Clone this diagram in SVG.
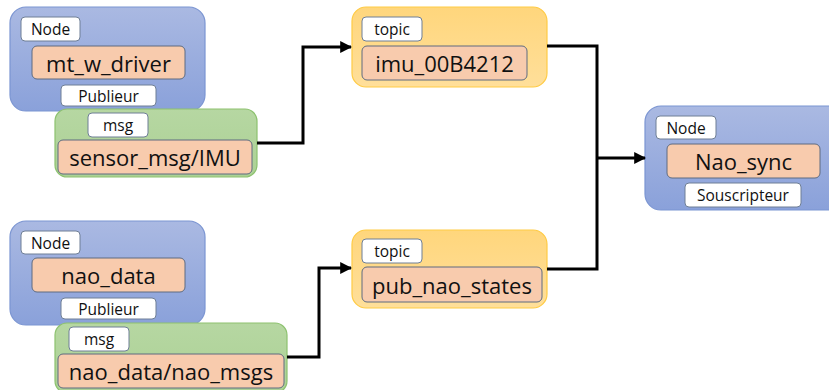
<svg xmlns="http://www.w3.org/2000/svg" width="829" height="390" viewBox="0 0 829 390">
<defs>
<linearGradient id="gBlue" x1="0" y1="0" x2="0" y2="1"><stop offset="0" stop-color="#aab9e2"/><stop offset="1" stop-color="#8aa1da"/></linearGradient>
<linearGradient id="gGreen" x1="0" y1="0" x2="0" y2="1"><stop offset="0" stop-color="#b6d7a2"/><stop offset="1" stop-color="#acd195"/></linearGradient>
<linearGradient id="gTopic" x1="0" y1="0" x2="0" y2="1"><stop offset="0" stop-color="#ffd67c"/><stop offset="1" stop-color="#ffdf9a"/></linearGradient>
<marker id="arr" viewBox="0 0 10 10" refX="9" refY="5" markerWidth="4" markerHeight="4" orient="auto" markerUnits="strokeWidth"><path d="M0,0 L10,5 L0,10 z" fill="#000"/></marker>
</defs>
<style>
.node{fill:url(#gBlue);stroke:#7b95d2;stroke-width:1.2}
.msgb{fill:url(#gGreen);stroke:#8dc26f;stroke-width:1.2}
.topicb{fill:url(#gTopic);stroke:#ffcb45;stroke-width:1.2}
.lbl{fill:#fff;stroke:#6f7f96;stroke-width:1}
.name{fill:#f8cbad;stroke:#5e6b80;stroke-width:1}
.t{font-family:"Open Sans","Noto Sans",sans-serif;fill:#111;text-anchor:middle;dominant-baseline:central}
.s{font-size:15.5px}
.b{font-size:22px}
.c{fill:none;stroke:#000;stroke-width:3}
</style>
<g id="node_mt_w_driver">
<rect class="node" x="10" y="7" width="195" height="104" rx="16"/>
<rect class="lbl" x="21" y="17" width="59" height="24" rx="4"/>
<text class="t s" x="50.5" y="29">Node</text>
<rect class="name" x="32" y="46" width="153" height="33" rx="5"/>
<text class="t b" x="108.5" y="62.5">mt_w_driver</text>
<rect class="lbl" x="61" y="85" width="95" height="21" rx="4"/>
<text class="t s" x="108.5" y="95.5">Publieur</text>
</g>
<g id="msg_sensor_msg_IMU">
<rect class="msgb" x="55" y="109" width="202" height="68" rx="12"/>
<rect class="lbl" x="88" y="113" width="60" height="24" rx="4"/>
<text class="t s" x="118" y="125">msg</text>
<rect class="name" x="58" y="140" width="194" height="34" rx="5"/>
<text class="t b" x="155" y="157">sensor_msg/IMU</text>
</g>
<g id="node_nao_data">
<rect class="node" x="10" y="221" width="195" height="104" rx="16"/>
<rect class="lbl" x="21" y="231" width="59" height="23" rx="4"/>
<text class="t s" x="50.5" y="242.5">Node</text>
<rect class="name" x="32" y="258" width="153" height="34" rx="5"/>
<text class="t b" x="108.5" y="275">nao_data</text>
<rect class="lbl" x="61" y="298" width="95" height="21" rx="4"/>
<text class="t s" x="108.5" y="308.5">Publieur</text>
</g>
<g id="msg_nao_data_nao_msgs">
<rect class="msgb" x="55" y="323" width="232" height="70" rx="12"/>
<rect class="lbl" x="69" y="327" width="60" height="24" rx="4"/>
<text class="t s" x="99" y="339">msg</text>
<rect class="name" x="58" y="354" width="226" height="34" rx="5"/>
<text class="t b" x="171" y="371">nao_data/nao_msgs</text>
</g>
<g id="topic_imu_00B4212">
<rect class="topicb" x="352" y="7" width="195" height="80" rx="14"/>
<rect class="lbl" x="362" y="17" width="60" height="24" rx="4"/>
<text class="t s" x="392" y="29">topic</text>
<rect class="name" x="362" y="46" width="165" height="34" rx="5"/>
<text class="t b" x="444.5" y="63">imu_00B4212</text>
</g>
<g id="topic_pub_nao_states">
<rect class="topicb" x="352" y="230" width="195" height="78" rx="14"/>
<rect class="lbl" x="362" y="239" width="60" height="24" rx="4"/>
<text class="t s" x="392" y="251">topic</text>
<rect class="name" x="362" y="267" width="180" height="35" rx="5"/>
<text class="t b" x="452" y="284.5">pub_nao_states</text>
</g>
<g id="node_Nao_sync">
<rect class="node" x="645" y="106" width="200" height="104" rx="16"/>
<rect class="lbl" x="656" y="116" width="60" height="23" rx="4"/>
<text class="t s" x="686" y="127.5">Node</text>
<rect class="name" x="667" y="144" width="153" height="34" rx="5"/>
<text class="t b" x="743.5" y="161">Nao_sync</text>
<rect class="lbl" x="685" y="183" width="116" height="24" rx="4"/>
<text class="t s" x="743" y="195">Souscripteur</text>
</g>
<g id="connectors">
<path class="c" d="M257,143 H303 V47 H351" marker-end="url(#arr)"/>
<path class="c" d="M287,357 H319 V268 H351" marker-end="url(#arr)"/>
<path class="c" d="M547,46 H597 V269 H547"/>
<path class="c" d="M597,158 H645" marker-end="url(#arr)"/>
</g>
</svg>
